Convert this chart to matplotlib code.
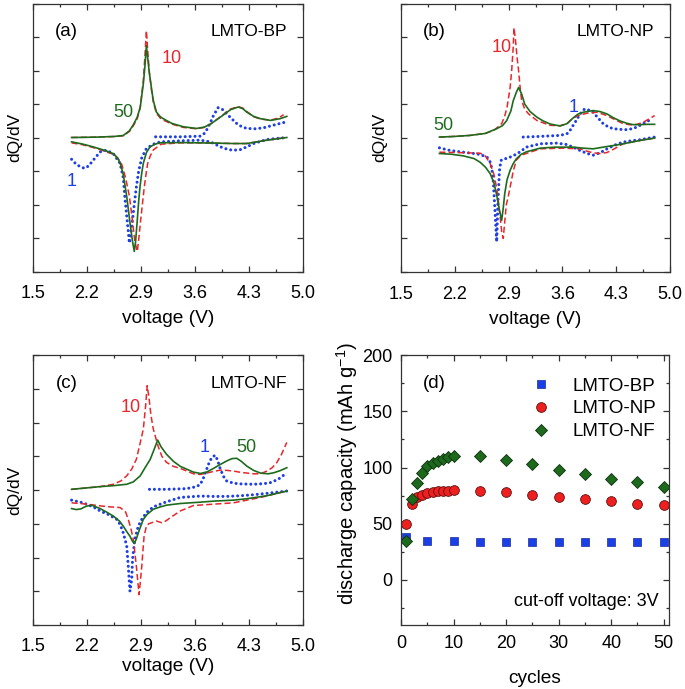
import matplotlib
matplotlib.use("Agg")
import matplotlib.pyplot as plt
from matplotlib.ticker import MultipleLocator, NullFormatter, FormatStrFormatter

plt.rcParams['font.family'] = ['Liberation Sans', 'DejaVu Sans']
plt.rcParams['mathtext.default'] = 'regular'

RED = '#e8262b'
GREEN = '#1e6b1e'
BLUE = '#1f3fe6'

# ---- panel (a) LMTO-BP : dQ/dV (arb. units) ----
a_ch50_v = [2.00, 2.30, 2.55, 2.67, 2.75, 2.80, 2.85, 2.89, 2.93, 2.95, 2.97, 2.99, 3.01, 3.04, 3.06, 3.10, 3.15, 3.19, 3.30, 3.45, 3.62, 3.72, 3.80, 3.93, 4.06, 4.16, 4.22, 4.27, 4.36, 4.45, 4.58, 4.70, 4.79]
a_ch50_q = [0.00, 0.01, 0.03, 0.06, 0.20, 0.38, 0.60, 0.90, 1.60, 2.10, 2.74, 2.30, 1.90, 1.40, 1.10, 0.76, 0.62, 0.56, 0.42, 0.32, 0.27, 0.31, 0.40, 0.61, 0.83, 0.91, 0.86, 0.76, 0.63, 0.56, 0.51, 0.56, 0.63]
a_ch10_v = [2.00, 2.30, 2.55, 2.67, 2.75, 2.80, 2.85, 2.89, 2.93, 2.95, 2.97, 2.99, 3.01, 3.04, 3.06, 3.10, 3.15, 3.19, 3.30, 3.45, 3.62, 3.72, 3.80, 3.93, 4.06, 4.16, 4.22, 4.27, 4.36, 4.45, 4.58, 4.68, 4.75]
a_ch10_q = [0.00, 0.01, 0.03, 0.05, 0.18, 0.35, 0.55, 0.90, 1.70, 2.40, 3.19, 2.50, 1.90, 1.35, 1.05, 0.72, 0.58, 0.52, 0.40, 0.30, 0.26, 0.30, 0.40, 0.62, 0.85, 0.92, 0.88, 0.78, 0.62, 0.55, 0.52, 0.58, 0.68]
a_ch1_v = [3.09, 3.40, 3.67, 3.72, 3.75, 3.80, 3.84, 3.90, 3.95, 4.01, 4.08, 4.14, 4.20, 4.27, 4.38, 4.49, 4.62, 4.79]
a_ch1_q = [0.02, 0.02, 0.04, 0.12, 0.22, 0.45, 0.66, 0.89, 0.85, 0.71, 0.55, 0.42, 0.33, 0.27, 0.26, 0.29, 0.37, 0.47]
a_dc50_v = [2.00, 2.15, 2.28, 2.38, 2.45, 2.54, 2.60, 2.63, 2.67, 2.715, 2.76, 2.79, 2.813, 2.83, 2.852, 2.87, 2.887, 2.91, 2.93, 2.97, 3.017, 3.08, 3.146, 3.40, 3.67, 3.90, 4.10, 4.27, 4.53, 4.79]
a_dc50_q = [-0.13, -0.20, -0.28, -0.35, -0.40, -0.48, -0.62, -0.77, -1.10, -1.76, -2.60, -3.10, -3.40, -3.10, -2.46, -1.90, -1.47, -1.05, -0.77, -0.45, -0.28, -0.20, -0.16, -0.15, -0.16, -0.17, -0.18, -0.18, -0.08, 0.00]
a_dc10_v = [2.00, 2.15, 2.28, 2.38, 2.45, 2.54, 2.60, 2.65, 2.70, 2.75, 2.79, 2.82, 2.852, 2.87, 2.896, 2.92, 2.943, 2.965, 2.987, 3.02, 3.06, 3.16, 3.40, 3.67, 3.90, 4.10, 4.27, 4.53, 4.79]
a_dc10_q = [-0.16, -0.22, -0.30, -0.37, -0.43, -0.50, -0.62, -0.80, -1.20, -1.76, -2.50, -3.10, -3.40, -3.05, -2.46, -1.95, -1.47, -1.10, -0.77, -0.55, -0.37, -0.20, -0.16, -0.16, -0.17, -0.18, -0.18, -0.08, 0.00]
a_dc1_v = [2.00, 2.06, 2.12, 2.17, 2.22, 2.28, 2.37, 2.45, 2.54, 2.628, 2.67, 2.69, 2.72, 2.75, 2.77, 2.79, 2.815, 2.84, 2.87, 2.91, 2.97, 3.06, 3.15, 3.40, 3.67, 3.80, 3.93, 4.03, 4.10, 4.19, 4.28, 4.36, 4.53, 4.79]
a_dc1_q = [-0.65, -0.80, -0.88, -0.92, -0.85, -0.68, -0.43, -0.38, -0.48, -0.77, -1.20, -1.76, -2.46, -3.15, -2.85, -2.46, -1.95, -1.47, -1.00, -0.60, -0.33, -0.20, -0.13, -0.10, -0.08, -0.13, -0.28, -0.36, -0.38, -0.36, -0.27, -0.18, -0.06, 0.00]

# ---- panel (b) LMTO-NP ----
b_ch50_v = [2.00, 2.20, 2.40, 2.60, 2.745, 2.82, 2.875, 2.93, 2.96, 3.00, 3.03, 3.07, 3.11, 3.18, 3.27, 3.35, 3.44, 3.57, 3.66, 3.74, 3.80, 3.87, 4.00, 4.09, 4.18, 4.26, 4.35, 4.44, 4.52, 4.61, 4.70, 4.80]
b_ch50_q = [0.02, 0.04, 0.07, 0.13, 0.27, 0.36, 0.51, 0.80, 1.10, 1.35, 1.50, 1.30, 1.00, 0.78, 0.61, 0.50, 0.41, 0.35, 0.42, 0.59, 0.70, 0.76, 0.81, 0.78, 0.71, 0.60, 0.50, 0.43, 0.39, 0.39, 0.40, 0.40]
b_ch10_v = [2.00, 2.20, 2.40, 2.60, 2.72, 2.81, 2.85, 2.88, 2.92, 2.94, 2.96, 2.97, 2.99, 3.01, 3.03, 3.05, 3.07, 3.11, 3.16, 3.27, 3.44, 3.57, 3.66, 3.74, 3.83, 3.92, 4.05, 4.18, 4.30, 4.39, 4.50, 4.57, 4.65, 4.72, 4.80]
b_ch10_q = [0.02, 0.04, 0.07, 0.13, 0.24, 0.42, 0.65, 0.91, 1.50, 2.00, 2.70, 3.28, 2.90, 2.40, 2.00, 1.50, 1.10, 0.85, 0.71, 0.51, 0.37, 0.36, 0.42, 0.59, 0.68, 0.73, 0.76, 0.66, 0.52, 0.42, 0.38, 0.40, 0.46, 0.55, 0.66]
b_ch1_v = [3.09, 3.31, 3.57, 3.66, 3.70, 3.74, 3.79, 3.83, 3.89, 3.95, 4.00, 4.06, 4.13, 4.20, 4.26, 4.35, 4.44, 4.53, 4.61, 4.70, 4.76]
b_ch1_q = [0.02, 0.04, 0.07, 0.12, 0.22, 0.37, 0.55, 0.71, 0.86, 0.82, 0.76, 0.60, 0.42, 0.32, 0.27, 0.25, 0.24, 0.28, 0.37, 0.48, 0.56]
b_dc50_v = [2.00, 2.15, 2.31, 2.45, 2.53, 2.60, 2.66, 2.71, 2.75, 2.78, 2.81, 2.83, 2.85, 2.88, 2.92, 2.96, 3.00, 3.06, 3.13, 3.31, 3.50, 3.74, 3.87, 4.00, 4.13, 4.35, 4.61, 4.80]
b_dc50_q = [-0.47, -0.49, -0.54, -0.62, -0.73, -0.88, -1.07, -1.35, -1.76, -2.15, -2.46, -2.10, -1.66, -1.25, -0.97, -0.77, -0.63, -0.50, -0.42, -0.31, -0.28, -0.28, -0.31, -0.33, -0.28, -0.20, -0.08, -0.01]
b_dc10_v = [2.00, 2.20, 2.35, 2.53, 2.60, 2.66, 2.71, 2.75, 2.79, 2.81, 2.83, 2.85, 2.87, 2.90, 2.92, 2.96, 3.00, 3.06, 3.13, 3.31, 3.60, 3.83, 3.92, 4.00, 4.09, 4.18, 4.26, 4.39, 4.61, 4.80]
b_dc10_q = [-0.43, -0.44, -0.45, -0.46, -0.55, -0.77, -1.10, -1.56, -2.36, -2.80, -3.00, -2.50, -2.00, -1.70, -1.47, -1.00, -0.67, -0.52, -0.47, -0.33, -0.31, -0.33, -0.40, -0.45, -0.47, -0.44, -0.35, -0.18, -0.08, -0.01]
b_dc1_v = [2.00, 2.14, 2.31, 2.45, 2.53, 2.62, 2.66, 2.68, 2.70, 2.72, 2.745, 2.76, 2.78, 2.80, 2.83, 2.87, 2.95, 3.05, 3.13, 3.31, 3.53, 3.65, 3.74, 3.81, 3.87, 3.94, 4.00, 4.09, 4.18, 4.28, 4.39, 4.50, 4.61, 4.80]
b_dc1_q = [-0.30, -0.38, -0.43, -0.47, -0.50, -0.58, -0.72, -0.90, -1.27, -2.06, -3.10, -2.00, -1.00, -0.68, -0.63, -0.62, -0.55, -0.42, -0.28, -0.18, -0.16, -0.20, -0.28, -0.36, -0.42, -0.48, -0.52, -0.45, -0.33, -0.22, -0.13, -0.09, -0.06, 0.02]

# ---- panel (c) LMTO-NF ----
c_ch50_v = [2.00, 2.37, 2.55, 2.715, 2.80, 2.89, 2.95, 3.02, 3.07, 3.116, 3.16, 3.23, 3.32, 3.41, 3.49, 3.58, 3.67, 3.75, 3.84, 3.93, 4.02, 4.08, 4.14, 4.20, 4.27, 4.36, 4.45, 4.55, 4.62, 4.70, 4.79]
c_ch50_q = [0.02, 0.10, 0.13, 0.17, 0.24, 0.42, 0.65, 0.91, 1.20, 1.48, 1.28, 1.06, 0.85, 0.70, 0.62, 0.53, 0.49, 0.53, 0.64, 0.76, 0.87, 0.93, 0.94, 0.85, 0.71, 0.58, 0.50, 0.48, 0.51, 0.57, 0.66]
c_ch10_v = [2.00, 2.37, 2.54, 2.64, 2.715, 2.78, 2.84, 2.89, 2.93, 2.96, 2.98, 3.00, 3.03, 3.06, 3.12, 3.17, 3.23, 3.32, 3.41, 3.58, 3.67, 3.75, 3.84, 3.93, 4.02, 4.10, 4.20, 4.36, 4.45, 4.53, 4.60, 4.66, 4.72, 4.79]
c_ch10_q = [0.02, 0.10, 0.17, 0.27, 0.42, 0.62, 0.91, 1.40, 1.80, 2.50, 3.09, 2.80, 2.20, 1.80, 1.31, 1.00, 0.82, 0.70, 0.64, 0.48, 0.46, 0.50, 0.55, 0.59, 0.58, 0.56, 0.52, 0.48, 0.48, 0.56, 0.66, 0.81, 1.05, 1.41]
c_ch1_v = [3.01, 3.23, 3.49, 3.62, 3.67, 3.71, 3.75, 3.79, 3.82, 3.86, 3.89, 3.93, 3.97, 4.01, 4.10, 4.20, 4.36, 4.50, 4.58, 4.68, 4.75]
c_ch1_q = [0.02, 0.02, 0.04, 0.10, 0.17, 0.36, 0.61, 0.85, 0.96, 1.03, 0.90, 0.61, 0.40, 0.27, 0.20, 0.18, 0.17, 0.19, 0.22, 0.32, 0.44]
c_dc50_v = [2.00, 2.06, 2.12, 2.19, 2.26, 2.37, 2.45, 2.54, 2.62, 2.67, 2.72, 2.757, 2.79, 2.813, 2.84, 2.865, 2.90, 2.93, 2.98, 3.06, 3.15, 3.23, 3.41, 3.67, 3.84, 4.10, 4.27, 4.53, 4.79]
c_dc50_q = [-0.55, -0.58, -0.56, -0.48, -0.45, -0.55, -0.65, -0.77, -0.92, -1.07, -1.25, -1.37, -1.52, -1.58, -1.45, -1.27, -1.05, -0.87, -0.72, -0.57, -0.50, -0.45, -0.40, -0.36, -0.33, -0.30, -0.26, -0.17, -0.03]
c_dc10_v = [2.00, 2.20, 2.37, 2.50, 2.63, 2.70, 2.735, 2.77, 2.80, 2.82, 2.84, 2.86, 2.875, 2.89, 2.91, 2.925, 2.94, 2.97, 3.00, 3.04, 3.10, 3.17, 3.22, 3.28, 3.41, 3.58, 3.84, 4.10, 4.45, 4.79]
c_dc10_q = [-0.38, -0.42, -0.47, -0.50, -0.52, -0.65, -0.87, -1.15, -1.47, -1.85, -2.26, -2.75, -3.10, -2.75, -2.26, -1.80, -1.37, -1.07, -1.00, -0.97, -0.92, -0.97, -0.92, -0.82, -0.62, -0.46, -0.42, -0.38, -0.22, -0.03]
c_dc1_v = [2.00, 2.15, 2.28, 2.37, 2.48, 2.585, 2.63, 2.67, 2.715, 2.735, 2.757, 2.78, 2.79, 2.82, 2.865, 2.91, 2.97, 3.06, 3.23, 3.41, 3.67, 3.84, 4.01, 4.19, 4.36, 4.53, 4.79]
c_dc1_q = [-0.30, -0.38, -0.50, -0.62, -0.73, -0.87, -1.02, -1.27, -1.66, -2.26, -3.00, -2.65, -2.06, -1.46, -1.07, -0.87, -0.67, -0.50, -0.35, -0.22, -0.18, -0.19, -0.19, -0.17, -0.14, -0.10, -0.03]

# ---- panel (d) discharge capacity vs cycles ----
cycles = [1, 2, 3, 4, 5, 6, 7, 8, 9, 10, 15, 20, 25, 30, 35, 40, 45, 50]
bp_cycles = [1, 5, 10, 15, 20, 25, 30, 35, 40, 45, 50]
bp_cap = [38, 35, 34.5, 34, 34, 34, 34, 34, 34, 34, 34]
np_cap = [50, 68, 74, 76, 77.5, 78.5, 79, 79, 79, 80, 79, 78, 76, 74, 72, 70, 68, 67]
nf_cap = [34.5, 71.6, 86, 95, 101, 104, 106, 108, 109, 110, 110, 107, 103, 98, 94, 90, 87, 83]

volt_ticks = [1.5, 2.2, 2.9, 3.6, 4.3, 5.0]
volt_minor = [1.85, 2.55, 3.25, 3.95, 4.65]

dqdv_panels = [
    ('(a)', 'LMTO-BP',
     (a_ch1_v, a_ch1_q, a_dc1_v, a_dc1_q),
     (a_ch10_v, a_ch10_q, a_dc10_v, a_dc10_q),
     (a_ch50_v, a_ch50_q, a_dc50_v, a_dc50_q),
     {'1': (2.0, -1.3), '10': (3.30, 2.35), '50': (2.67, 0.76)}),
    ('(b)', 'LMTO-NP',
     (b_ch1_v, b_ch1_q, b_dc1_v, b_dc1_q),
     (b_ch10_v, b_ch10_q, b_dc10_v, b_dc10_q),
     (b_ch50_v, b_ch50_q, b_dc50_v, b_dc50_q),
     {'1': (3.74, 0.91), '10': (2.81, 2.69), '50': (2.05, 0.37)}),
    ('(c)', 'LMTO-NF',
     (c_ch1_v, c_ch1_q, c_dc1_v, c_dc1_q),
     (c_ch10_v, c_ch10_q, c_dc10_v, c_dc10_q),
     (c_ch50_v, c_ch50_q, c_dc50_v, c_dc50_q),
     {'1': (3.72, 1.26), '10': (2.76, 2.45), '50': (4.27, 1.26)}),
]

fig = plt.figure(figsize=(6.85, 6.89), dpi=100)
W, H = 685, 689


def add_axes(left, top, right, bottom):
    return fig.add_axes([left / W, 1 - bottom / H, (right - left) / W, (bottom - top) / H])


def style_axes(ax, xpad, ypad=6):
    for s in ax.spines.values():
        s.set_linewidth(0.9)
        s.set_color('#333333')
    ax.tick_params(which='both', direction='in', top=True, right=True,
                   colors='#333333', labelcolor='black', labelsize=13)
    ax.tick_params(which='major', length=4.5, width=0.9)
    ax.tick_params(which='minor', length=2.5, width=0.9)
    ax.tick_params(axis='x', which='major', pad=xpad)
    ax.tick_params(axis='y', which='major', pad=ypad)


# box (left, top, right, bottom) px, xlabel top (axes frac), ylabel right edge, tick pad
layout = [((33, 3.5, 303, 271.5), -0.144, -0.041, 10),
          ((401, 3.5, 670, 272), -0.144, -0.052, 10),
          ((33, 355, 303, 625), -0.122, -0.041, 9.5)]

for (tag, name, c1, c10, c50, lbl), (box, xl_y, yl_x, xpad) in zip(dqdv_panels, layout):
    ax = add_axes(*box)
    for data, col, ls, lw in [(c1, BLUE, (0, (0.01, 1.6)), 2.2),
                              (c10, RED, (0, (4, 2)), 1.1),
                              (c50, GREEN, '-', 1.2)]:
        for v, q in [(data[0], data[1]), (data[2], data[3])]:
            ax.plot(v, q, color=col, linestyle=ls, linewidth=lw,
                    dash_capstyle='round' if col == BLUE else 'butt',
                    solid_joinstyle='round')
    ax.set_xlim(1.5, 5.0)
    ax.set_ylim(-4, 4)
    ax.set_xticks(volt_ticks)
    ax.set_xticks(volt_minor, minor=True)
    ax.xaxis.set_major_formatter(FormatStrFormatter('%.1f'))
    ax.yaxis.set_major_locator(MultipleLocator(1))
    ax.yaxis.set_major_formatter(NullFormatter())
    style_axes(ax, xpad)
    ax.set_xlabel('voltage (V)', fontsize=13.8)
    ax.xaxis.set_label_coords(0.5, xl_y)
    ax.set_ylabel('dQ/dV', fontsize=12.5)
    ax.yaxis.set_label_coords(yl_x, 0.5)
    ax.text(0.124, 0.896, tag, transform=ax.transAxes, fontsize=13.5, ha='center', va='center')
    ax.text(0.94, 0.896, name, transform=ax.transAxes, fontsize=12.5, ha='right', va='center')
    ax.text(*lbl['1'], '1', color=BLUE, fontsize=13, ha='center', va='center')
    ax.text(*lbl['10'], '10', color=RED, fontsize=13, ha='center', va='center')
    ax.text(*lbl['50'], '50', color=GREEN, fontsize=13, ha='center', va='center')

ax = add_axes(401, 355, 669, 625)
ax.plot(bp_cycles, bp_cap, 's', color='#1a3fe6', markersize=5.5, markeredgecolor='#1a2a9a',
        markeredgewidth=0.5, label='LMTO-BP')
ax.plot(cycles, np_cap, 'o', color='#ee1f1f', markersize=7, markeredgecolor='#5a1010',
        markeredgewidth=0.6, label='LMTO-NP')
ax.plot(cycles, nf_cap, 'D', color='#1d6a1d', markersize=6, markeredgecolor='#0c300c',
        markeredgewidth=0.6, label='LMTO-NF')
ax.set_xlim(0, 51)
ax.set_ylim(-40, 200)
ax.xaxis.set_major_locator(MultipleLocator(10))
ax.xaxis.set_minor_locator(MultipleLocator(5))
ax.yaxis.set_major_locator(MultipleLocator(50))
ax.yaxis.set_minor_locator(MultipleLocator(25))
style_axes(ax, 7, 6)
ax.set_xlabel('cycles', fontsize=13.8)
ax.xaxis.set_label_coords(0.5, -0.167)
ax.set_ylabel('discharge capacity (mAh g$^{-1}$)', fontsize=14.6)
ax.yaxis.set_label_coords(-0.153, 0.56)
ax.text(0.124, 0.896, '(d)', transform=ax.transAxes, fontsize=13.5, ha='center', va='center')
ax.text(0.96, 0.086, 'cut-off voltage: 3V', transform=ax.transAxes, fontsize=13,
        ha='right', va='center')
ax.legend(loc='upper right', frameon=False, fontsize=13.5, handletextpad=0.65,
          labelspacing=0.3, borderaxespad=0.3, bbox_to_anchor=(1.0, 0.965))

fig.savefig('out.png', dpi=100)
